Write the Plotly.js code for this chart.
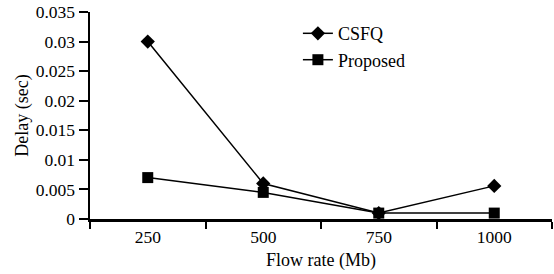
<!DOCTYPE html>
<html><head><meta charset="utf-8">
<script src="https://cdn.plot.ly/plotly-3.0.1.min.js"></script>
<style>body{margin:0;background:#fff}#c{width:554px;height:274px}</style>
</head><body><div id="c"></div>
<script>
const categories = ["250", "500", "750", "1000"];
const csfq = [0.030, 0.006, 0.001, 0.0056];
const proposed = [0.007, 0.0045, 0.001, 0.001];
const yTicks = [0, 0.005, 0.01, 0.015, 0.02, 0.025, 0.03, 0.035];
const yTickText = ["0", "0.005", "0.01", "0.015", "0.02", "0.025", "0.03", "0.035"];

const font = {family: "Liberation Serif, Times New Roman, serif", size: 18, color: "#000"};
const tickFont = {family: "Liberation Serif, Times New Roman, serif", size: 17.5, color: "#000"};
const traces = [
  {x: categories, y: csfq, name: "CSFQ", type: "scatter", mode: "lines+markers",
   line: {color: "#000", width: 1.5}, marker: {symbol: "diamond", size: 11, color: "#000"}},
  {x: categories, y: proposed, name: "Proposed", type: "scatter", mode: "lines+markers",
   line: {color: "#000", width: 1.5}, marker: {symbol: "square", size: 11, color: "#000"}}
];
const layout = {
  width: 554, height: 274,
  margin: {l: 90, r: 2, t: 12, b: 55},
  paper_bgcolor: "#fff", plot_bgcolor: "#fff",
  font: font,
  showlegend: true,
  legend: {x: 0.45, y: 0.985, xanchor: "left", yanchor: "top", bgcolor: "rgba(0,0,0,0)",
           font: font, tracegroupgap: 0, itemwidth: 30},
  xaxis: {type: "category", range: [-0.5, 3.5], tickson: "boundaries", ticks: "outside",
          ticklen: 7, tickwidth: 2, tickcolor: "#000", showline: true, linecolor: "#000",
          linewidth: 2.5, showgrid: false, zeroline: false, tickfont: tickFont,
          title: {text: "Flow rate (Mb)", font: font, standoff: 8}},
  yaxis: {range: [0, 0.035], tickvals: yTicks, ticktext: yTickText, ticks: "outside",
          ticklen: 9, tickwidth: 2, tickcolor: "#000", showline: true, linecolor: "#000",
          linewidth: 2.5, showgrid: false, zeroline: false, tickfont: tickFont,
          title: {text: "Delay (sec)", font: font, standoff: 3}}
};
Plotly.newPlot("c", traces, layout, {displayModeBar: false, staticPlot: true});
</script></body></html>
